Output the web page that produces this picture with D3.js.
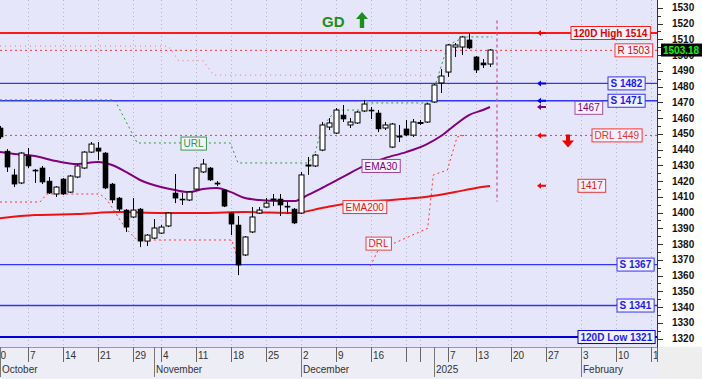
<!DOCTYPE html>
<html><head><meta charset="utf-8">
<script src="https://cdn.jsdelivr.net/npm/d3@7"></script>
<style>body{margin:0;background:#fff}svg{display:block;font-family:Arial,"Liberation Sans",sans-serif}</style>
</head><body><svg id="c" width="702" height="379"></svg>
<script>
// ---------- data ----------
const firstSession = "2024-09-30", lastSession = "2025-02-21";
const holidays = ["2024-10-28","2024-12-24","2024-12-25","2024-12-26","2025-01-01","2025-01-06"];
const firstCandle = "2024-10-01";
const open  = [1453.7,1439.0,1423.9,1418.8,1435.9,1427.0,1428.3,1420.0,1411.8,1421.3,
               1413.0,1422.6,1428.3,1438.4,1441.0,1437.8,1418.1,1409.2,1401.6,1397.2,
               1402.2,1381.9,1383.8,1387.0,1391.5,1412.4,1408.6,1408.0,1414.9,1425.8,
               1428.3,1418.8,1414.3,1399.7,1392.1,1373.1,1387.7,1399.7,1403.5,1408.0,
               1408.6,1404.1,1402.2,1399.7,1429.6,1429.6,1439.7,1454.3,1450.5,1461.9,
               1455.6,1456.9,1464.5,1465.1,1463.2,1453.7,1441.6,1448.0,1453.1,1449.2,
               1456.9,1457.5,1470.2,1482.3,1489.2,1505.1,1505.1,1509.6,1498.8,1495.0,
               1494.3];
const high  = [1455.0,1440.3,1427.7,1438.4,1441.0,1427.7,1429.6,1422.6,1416.8,1421.9,
               1423.9,1430.8,1439.0,1444.8,1444.8,1438.4,1418.8,1409.9,1402.2,1409.2,
               1402.9,1386.4,1395.9,1392.1,1400.3,1424.5,1412.4,1413.7,1428.9,1434.0,
               1428.9,1420.0,1414.9,1400.3,1397.8,1385.1,1403.5,1403.5,1409.2,1411.8,
               1411.8,1406.7,1402.9,1425.8,1435.3,1437.2,1457.5,1460.0,1466.4,1468.3,
               1460.0,1464.5,1471.5,1467.0,1465.1,1457.5,1456.9,1455.6,1458.8,1459.4,
               1458.8,1469.6,1481.6,1491.1,1507.0,1507.6,1512.1,1514.0,1499.4,1497.5,
               1503.8];
const low   = [1446.7,1425.8,1416.2,1418.1,1428.3,1418.8,1418.1,1411.8,1409.9,1411.2,
               1412.4,1421.9,1427.7,1437.8,1433.4,1414.9,1406.0,1401.0,1387.7,1396.5,
               1378.1,1378.8,1383.2,1386.4,1390.8,1406.0,1404.8,1407.3,1414.3,1425.1,
               1420.0,1416.8,1403.5,1385.7,1360.3,1372.4,1387.0,1399.1,1402.9,1404.1,
               1397.8,1399.1,1392.7,1399.1,1423.9,1428.9,1439.0,1452.4,1449.9,1457.5,
               1453.7,1456.2,1463.8,1459.4,1451.1,1452.4,1441.0,1444.8,1448.6,1448.0,
               1455.6,1456.9,1469.6,1475.9,1486.1,1498.8,1500.0,1503.8,1488.6,1491.8,
               1492.4];
const close = [1448.0,1428.9,1418.1,1437.8,1429.6,1426.4,1419.4,1412.4,1416.2,1411.8,
               1423.2,1429.6,1438.4,1443.5,1439.0,1415.6,1408.0,1402.2,1390.8,1401.6,
               1381.9,1385.7,1390.2,1390.8,1399.7,1409.2,1408.0,1413.0,1428.3,1430.8,
               1420.7,1418.1,1404.1,1392.7,1366.7,1384.5,1397.2,1401.6,1406.0,1408.6,
               1404.8,1403.5,1393.4,1423.9,1430.2,1436.5,1455.6,1456.9,1465.1,1459.4,
               1457.5,1463.8,1468.9,1464.5,1453.1,1455.6,1456.2,1448.6,1449.2,1457.5,
               1457.2,1468.9,1481.0,1486.7,1506.4,1506.4,1511.5,1504.5,1490.5,1493.7,
               1503.18];
const lastPrice = "1503.18";

// EMA lines (session index, value)
const ema30Idx = [0,3,6,9,12,15,17,19,21,24,26,28,30,32,34,36,38,41,43,45,47,50,53,56,59,62,64,66,68,70,71];
const ema30Val = [1439.1,1437.2,1435.9,1432.7,1430.8,1432.1,1430.2,1425.8,1420.7,1416.2,1414.3,1413.0,1414.9,1415.6,1413.0,1409.2,1408.0,1407.3,1407.3,1411.2,1415.6,1422.6,1429.6,1434.6,1438.4,1443.5,1448.6,1455.6,1461.9,1465.1,1467.0];
const ema200Idx = [0,6,12,18,24,30,36,43,47,52,57,62,66,69,71];
const ema200Val = [1395.9,1398.4,1399.1,1400.3,1399.7,1399.7,1400.3,1399.7,1402.9,1406.7,1408.0,1410.0,1413.0,1415.6,1416.8];

// trailing reversal levels (session index, value); null = gap
const urlIdx = [1,17.4,20.6,33.9,35,45,46,47,49,53,53.2,62.5,63.4,65,67.4,71.3];
const urlVal = [1471.5,1471.5,1444.2,1444.2,1431.5,1431.5,1437.8,1454.3,1465.1,1465.1,1469.6,1469.6,1484.2,1506.4,1511.5,1511.5];
const drlIdx = [1,6.7,7.7,15.3,16.3,18.9,20.6,34.1,35,35.2,53.9,55,62.1,62.9,64.9,66.3,67.5];
const drlVal = [1406.7,1406.7,1411.8,1411.8,1408.0,1390.2,1382.6,1382.6,1369.6,null,1366.0,1376.0,1390.0,1423.9,1427.0,1448.0,1449.2];
const ulrIdx = [1,25,25.5,26.5,30,31.5,63];
const ulrVal = [1505.7,1505.7,1503.2,1496.5,1496.5,1487.3,1487.3];

// horizontal levels
const levelValues = [1514,1503,1482,1471,1449,1367,1341,1321];
const levelLabels = ["120D High 1514","R 1503","S 1482","S 1471","DRL 1449","S 1367","S 1341","120D Low 1321"];
const emaLabels = ["EMA30","EMA200"];
const emaEndLabels = ["1467","1417"];
const arrowValues = [1514,1482,1471,1467,1449,1417];
const yTicks = d3.range(1320,1531,10);
const signalText = "GD";
const markerIdx = 72, markerTop = 1522, markerBottom = 1407;

// ---------- layout / style ----------
const W=702, H=379, plotR=657, plotB=347;
const levelStyle = [
  {c:"#ff1a1a", w:2,   dash:null,  tc:"#e00000", bold:true,  bx:571},
  {c:"#ff3333", w:1,   dash:"2,3", tc:"#e00000", bold:false, bx:615},
  {c:"#3333ff", w:1.3, dash:null,  tc:"#1a1aff", bold:true,  bx:608},
  {c:"#3333ff", w:1.3, dash:null,  tc:"#1a1aff", bold:true,  bx:608},
  {c:"#ff3333", w:1,   dash:"2,3", tc:"#e83030", bold:false, bx:592},
  {c:"#3333ff", w:1.3, dash:null,  tc:"#1a1aff", bold:true,  bx:617},
  {c:"#3333ff", w:1.3, dash:null,  tc:"#1a1aff", bold:true,  bx:617},
  {c:"#0000dd", w:2,   dash:null,  tc:"#1a1aff", bold:true,  bx:578}
];
const arrowColors = ["#ff0000","#0000ff","#0000ff","#800080","#ff0000","#ff0000"];
// label anchor positions (x px, price level for vertical centre)
const tagPos = {ema30:[362,1429.6], ema200:[343,1403.5], url:[181,1443.8], drl:[366,1380.3], e30end:[575,1466.5], e200end:[578,1417]};

const svg = d3.select("#c");
const fmt = d3.timeFormat("%Y-%m-%d"), parse = d3.timeParse("%Y-%m-%d");
const sessions = d3.timeDay.range(parse(firstSession), d3.timeDay.offset(parse(lastSession),1))
  .filter(d => d.getDay()%6!==0 && !holidays.includes(fmt(d)));
const c0 = sessions.findIndex(d => fmt(d)===firstCandle);

const x = d3.scaleLinear().domain([0,94]).range([-7,651]);
const y = d3.scaleLinear().domain([1320,1530]).range([338.6,7.8]);

// backgrounds
svg.append("rect").attr("width",W).attr("height",H).attr("fill","#ffffff");
svg.append("rect").attr("x",0).attr("y",plotB).attr("width",plotR).attr("height",H-plotB).attr("fill","#ededf6");
svg.append("rect").attr("x",plotR).attr("y",plotB).attr("width",W-plotR).attr("height",H-plotB).attr("fill","#eeeeee");
const defs = svg.append("defs");
defs.append("clipPath").attr("id","pc").append("rect").attr("width",plotR).attr("height",plotB);
defs.append("clipPath").attr("id","xc").append("rect").attr("x",0).attr("y",plotB).attr("width",plotR).attr("height",H-plotB);
const g = svg.append("g").attr("clip-path","url(#pc)");
g.append("rect").attr("width",plotR).attr("height",plotB).attr("fill","#e6e6fa");

// week ticks & month starts
const weekTicks = sessions.map((d,i)=>i).filter(i => i===0 || +d3.timeMonday.floor(sessions[i]) !== +d3.timeMonday.floor(sessions[i-1]));
const monthStarts = sessions.map((d,i)=>i).filter(i => i>0 && sessions[i].getMonth()!==sessions[i-1].getMonth());

// vertical grid
g.selectAll("line.grid").data(weekTicks).join("line")
  .attr("x1",i=>x(i)+0.5).attr("x2",i=>x(i)+0.5).attr("y1",0).attr("y2",plotB)
  .attr("stroke","#b4b4c8").attr("stroke-dasharray","1,3");

// horizontal levels
g.selectAll("line.lvl").data(levelValues).join("line")
  .attr("x1",0).attr("x2",plotR).attr("y1",v=>y(v)).attr("y2",v=>y(v))
  .attr("stroke",(v,i)=>levelStyle[i].c).attr("stroke-width",(v,i)=>levelStyle[i].w)
  .attr("stroke-dasharray",(v,i)=>levelStyle[i].dash);

// step / trailing lines
function stepLine(idx, val, color, dash, w){
  const pts = idx.map((d,i)=>[d,val[i]]);
  g.append("path").datum(pts)
    .attr("d", d3.line().defined(p=>p[1]!==null).x(p=>x(p[0])).y(p=>y(p[1])))
    .attr("fill","none").attr("stroke",color).attr("stroke-width",w||1).attr("stroke-dasharray",dash);
}
stepLine(ulrIdx, ulrVal, "#e68aa0", "1,4", 1.2);
stepLine(urlIdx, urlVal, "#2e9a3e", "2,3", 1);
stepLine(drlIdx, drlVal, "#ff3333", "2,3", 1);

// vertical marker
g.append("line").attr("x1",x(markerIdx)).attr("x2",x(markerIdx)).attr("y1",y(markerTop)).attr("y2",y(markerBottom))
  .attr("stroke","#cc5599").attr("stroke-width",1.3).attr("stroke-dasharray","3,3");

// EMA lines
const lineGen = d3.line().curve(d3.curveMonotoneX).x(p=>x(p[0])).y(p=>y(p[1]));
g.append("path").datum(ema200Idx.map((d,i)=>[d,ema200Val[i]])).attr("d",lineGen)
  .attr("fill","none").attr("stroke","#ee1111").attr("stroke-width",2);
g.append("path").datum(ema30Idx.map((d,i)=>[d,ema30Val[i]])).attr("d",lineGen)
  .attr("fill","none").attr("stroke","#800080").attr("stroke-width",2);

// candles
const candles = open.map((o,k)=>({i:c0+k, o, h:high[k], l:low[k], c:close[k]}));
const cg = g.append("g");
cg.selectAll("line.wick").data(candles).join("line")
  .attr("x1",d=>Math.round(x(d.i))+0.5).attr("x2",d=>Math.round(x(d.i))+0.5)
  .attr("y1",d=>y(d.h)).attr("y2",d=>y(d.l)).attr("stroke","#000").attr("stroke-width",1);
cg.selectAll("rect.body").data(candles).join("rect")
  .attr("x",d=>Math.round(x(d.i))-2).attr("width",5)
  .attr("y",d=>y(Math.max(d.o,d.c))).attr("height",d=>Math.max(1,Math.abs(y(d.o)-y(d.c))))
  .attr("fill",d=>d.c>=d.o?"#ffffff":"#000000").attr("stroke","#000").attr("stroke-width",d=>d.c>=d.o?1:0.6);

// label box helper
function boxLabel(parent, tx, cy, text, color, border, bold, fill){
  const gg = parent.append("g");
  const t = gg.append("text").attr("x",tx+2.5).attr("y",cy+3.6).text(text)
    .attr("font-size",10).attr("font-weight",bold?"bold":"normal").attr("fill",color);
  const bb = t.node().getBBox();
  gg.insert("rect","text").attr("x",tx).attr("y",cy-6.5).attr("width",bb.width+5).attr("height",13)
    .attr("fill",fill||"#f3f3fc").attr("stroke",border).attr("stroke-width",1);
}
const lg = svg.append("g");
levelValues.forEach((v,i)=>{
  const s = levelStyle[i];
  boxLabel(lg, s.bx, y(v), levelLabels[i], s.tc, s.c, s.bold);
});
boxLabel(lg, tagPos.ema30[0], y(tagPos.ema30[1]), emaLabels[0], "#800080", "#a040a0", false);
boxLabel(lg, tagPos.ema200[0], y(tagPos.ema200[1]), emaLabels[1], "#ee1111", "#ee3333", false);
boxLabel(lg, tagPos.url[0], y(tagPos.url[1]), "URL", "#2e9a3e", "#3a9a4a", false);
boxLabel(lg, tagPos.drl[0], y(tagPos.drl[1]), "DRL", "#ee2222", "#ee4444", false);
boxLabel(lg, tagPos.e30end[0], y(tagPos.e30end[1]), emaEndLabels[0], "#800080", "#a050a0", false);
boxLabel(lg, tagPos.e200end[0], y(tagPos.e200end[1]), emaEndLabels[1], "#ee1111", "#ee3333", false);

// small left arrows
lg.selectAll("path.arr").data(arrowValues).join("path")
  .attr("transform",v=>`translate(537,${y(v)})`)
  .attr("d","M0,0 L4,-3 L4,-1 L9,-1 L9,1 L4,1 L4,3 Z")
  .attr("fill",(v,i)=>arrowColors[i]);
// red down arrow
lg.append("path").attr("transform",`translate(568,${y(1449)})`)
  .attr("d","M-2,-1 L2,-1 L2,5 L6,5 L0,12 L-6,5 L-2,5 Z").attr("fill","#ee0000");
// GD signal
lg.append("text").attr("x",322).attr("y",27).text(signalText).attr("font-size",15).attr("font-weight","bold").attr("fill","#1a8f1a");
lg.append("path").attr("transform","translate(362,12)")
  .attr("d","M0,0 L6,7 L2.2,7 L2.2,16 L-2.2,16 L-2.2,7 L-6,7 Z").attr("fill","#1a8f1a");

// right axis
const ax = svg.append("g");
ax.append("line").attr("x1",plotR+0.5).attr("x2",plotR+0.5).attr("y1",0).attr("y2",plotB).attr("stroke","#333");
ax.selectAll("line.maj").data(yTicks).join("line")
  .attr("x1",plotR).attr("x2",plotR+6).attr("y1",v=>Math.round(y(v))+0.5).attr("y2",v=>Math.round(y(v))+0.5).attr("stroke","#333");
ax.selectAll("line.min").data(yTicks.slice(0,-1).map(v=>v+5)).join("line")
  .attr("x1",plotR).attr("x2",plotR+4).attr("y1",v=>Math.round(y(v))+0.5).attr("y2",v=>Math.round(y(v))+0.5).attr("stroke","#333");
ax.selectAll("text.yl").data(yTicks).join("text")
  .attr("x",672).attr("y",v=>y(v)+3.6).text(v=>v)
  .attr("font-size",10).attr("font-weight","bold").attr("fill","#111");
// last price tag
ax.append("rect").attr("x",661).attr("y",y(1503.18)-6.5).attr("width",41).attr("height",13).attr("fill","#000");
ax.append("text").attr("x",663).attr("y",y(1503.18)+3.8).text(lastPrice)
  .attr("font-size",10).attr("font-weight","bold").attr("fill","#00ff00");

// x axis
const xa = svg.append("g").attr("clip-path","url(#xc)");
xa.append("line").attr("x1",0).attr("x2",plotR).attr("y1",plotB+0.5).attr("y2",plotB+0.5).attr("stroke","#999");
const lineXs = weekTicks.map(i=>x(i)).concat(monthStarts.map(i=>x(i))).sort((a,b)=>a-b);
xa.selectAll("line.wt").data(weekTicks).join("line")
  .attr("x1",i=>Math.round(x(i))+0.5).attr("x2",i=>Math.round(x(i))+0.5).attr("y1",plotB).attr("y2",362).attr("stroke","#666");
xa.selectAll("text.wt").data(weekTicks.filter((i,k)=>{
    const xi=x(i); const nxt=lineXs.find(v=>v>xi+0.5); return k===0 || nxt===undefined || nxt-xi>=15;
  })).join("text")
  .attr("x",i=>x(i)+2).attr("y",358.5).text(i=>sessions[i].getDate())
  .attr("font-size",10).attr("fill","#333");
xa.selectAll("line.ms").data(monthStarts).join("line")
  .attr("x1",i=>Math.round(x(i))+0.5).attr("x2",i=>Math.round(x(i))+0.5).attr("y1",plotB).attr("y2",377).attr("stroke","#777");
xa.selectAll("text.ms").data(monthStarts).join("text")
  .attr("x",i=>x(i)+2).attr("y",372.5)
  .text(i=>sessions[i].getMonth()===0 ? sessions[i].getFullYear() : d3.timeFormat("%B")(sessions[i]))
  .attr("font-size",10).attr("fill","#333");
svg.append("line").attr("x1",plotR+0.5).attr("x2",plotR+0.5).attr("y1",plotB).attr("y2",362).attr("stroke","#666");
</script></body></html>
